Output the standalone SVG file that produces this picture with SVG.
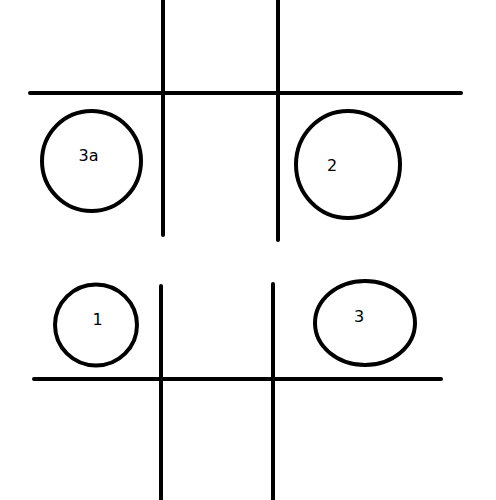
<svg xmlns="http://www.w3.org/2000/svg" width="496" height="500" viewBox="0 0 496 500">
<style>
.ln{stroke:#000;stroke-width:4;stroke-linecap:round;fill:none}
.c{stroke:#000;stroke-width:4;fill:none}
.t{font-family:"DejaVu Sans",sans-serif;font-size:16px;fill:#000;text-anchor:middle}
</style>
<rect width="496" height="500" fill="#fff"/>
<g id="connectors">
<line class="ln" x1="30" y1="93" x2="461" y2="93"/>
<line class="ln" x1="163" y1="-2" x2="163" y2="235"/>
<line class="ln" x1="278" y1="-2" x2="278" y2="240"/>
<line class="ln" x1="34" y1="379" x2="441" y2="379"/>
<line class="ln" x1="161" y1="286" x2="161" y2="502"/>
<line class="ln" x1="273" y1="284" x2="273" y2="502"/>
</g>
<g id="node-3a">
<ellipse class="c" cx="91.5" cy="161" rx="49.5" ry="50"/>
<text class="t" x="88.5" y="161">3a</text>
</g>
<g id="node-2">
<ellipse class="c" cx="348" cy="164.5" rx="52" ry="53.5"/>
<text class="t" x="332" y="171">2</text>
</g>
<g id="node-1">
<ellipse class="c" cx="96" cy="325" rx="41" ry="40.5"/>
<text class="t" x="97.5" y="325">1</text>
</g>
<g id="node-3">
<ellipse class="c" cx="365" cy="323" rx="50" ry="42"/>
<text class="t" x="359" y="322">3</text>
</g>
</svg>
